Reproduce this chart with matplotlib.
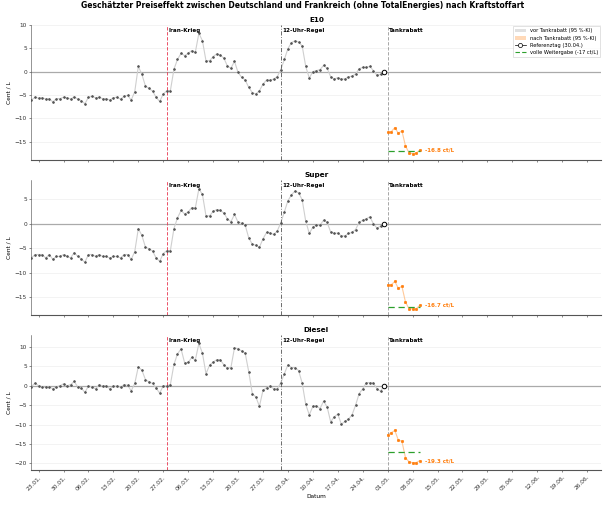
"""Geschätzter Preiseffekt DE vs. FR nach Kraftstoffart – Nachbau als PNG."""
import matplotlib

matplotlib.use("Agg")
import matplotlib.pyplot as plt  # noqa: E402
import matplotlib.dates as mdates  # noqa: E402
from matplotlib.lines import Line2D  # noqa: E402
from matplotlib.patches import Patch  # noqa: E402
import pandas as pd  # noqa: E402

# --------------------------------------------------------------------------
# Daten
# --------------------------------------------------------------------------
PRE_DATES = pd.date_range("2026-01-21", "2026-04-30", freq="D")
POST_DATES = pd.date_range("2026-05-01", "2026-05-10", freq="D")

E10_PRE = [-6.1, -5.5, -5.7, -5.6, -5.9, -5.8, -6.5, -5.8, -5.8, -5.5,
           -5.6, -5.9, -5.4, -5.9, -6.2, -6.9, -5.5, -5.3, -5.6, -5.5,
           -5.8, -5.8, -6.1, -5.6, -5.5, -5.9, -5.3, -5.1, -6.1, -4.3,
           1.1, -0.6, -3.1, -3.6, -4.2, -5.5, -6.4, -4.8,
           -4.1, -4.1, 0.5, 2.6, 3.9, 3.4, 3.9, 4.5, 4.1, 8.2,
           6.6, 2.3, 2.3, 3.2, 3.8, 3.5, 2.9, 1.2, 0.7, 2.2,
           -0.2, -1.2, -1.8, -3.4, -4.5, -4.8, -4.1, -2.7, -1.8, -1.9,
           -1.6, -1.1, 0.4, 2.6, 4.9, 6.2, 6.6, 6.3, 5.5, 1.1,
           -1.4, 0.0, 0.2, 0.4, 1.3, 0.7, -1.1, -1.6, -1.3, -1.6,
           -1.6, -1.1, -1.0, -0.5, 0.6, 0.9, 0.9, 1.1, 0.2, -0.8,
           -0.6, 0.0]
E10_POST = [-13.0, -12.9, -12.0, -13.2, -12.7, -15.9, -17.4, -17.6, -17.5, -16.8]

SUPER_PRE = [-7.0, -6.3, -6.3, -6.3, -7.0, -6.3, -7.3, -6.7, -6.7, -6.3,
             -6.7, -7.0, -5.9, -6.7, -7.2, -7.9, -6.3, -6.3, -6.7, -6.3,
             -6.7, -6.7, -7.0, -6.7, -6.7, -7.0, -6.3, -6.3, -7.3, -5.7,
             -1.0, -2.4, -4.8, -5.1, -5.6, -7.0, -7.7, -6.1,
             -5.5, -5.5, -1.0, 1.2, 2.7, 2.0, 2.4, 3.3, 3.2, 7.1,
             6.0, 1.6, 1.6, 2.5, 2.9, 2.7, 2.2, 1.0, 0.4, 1.9,
             0.3, 0.1, -0.3, -2.9, -4.2, -4.4, -4.8, -3.1, -1.8, -1.9,
             -2.2, -1.5, 0.2, 2.4, 4.7, 5.9, 6.7, 6.3, 4.9, 0.5,
             -2.0, -0.7, -0.3, -0.3, 0.7, 0.3, -1.7, -2.0, -1.9, -2.5,
             -2.5, -2.0, -1.8, -1.2, 0.3, 0.7, 1.0, 1.4, 0.0, -0.9,
             -0.5, 0.0]
SUPER_POST = [-12.5, -12.5, -11.8, -13.2, -12.8, -16.0, -17.4, -17.4, -17.4, -16.7]

DIESEL_PRE = [-0.2, 0.7, 0.0, -0.3, -0.4, -0.2, -0.8, -0.3, 0.0, 0.5,
              0.0, 0.3, 1.1, -0.3, -0.6, -1.7, -0.1, -0.3, -0.8, 0.3,
              -0.1, 0.0, -0.8, -0.1, -0.1, -0.4, 0.3, 0.1, -1.3, 0.6,
              4.9, 4.0, 1.6, 1.0, 0.6, -0.6, -1.9, 0.0,
              0.0, 0.3, 5.5, 8.2, 9.5, 5.9, 6.0, 7.3, 6.6, 10.9,
              8.4, 3.1, 5.3, 6.1, 6.7, 6.7, 5.4, 4.5, 4.7, 9.8,
              9.5, 9.0, 8.4, 3.6, -2.0, -2.9, -5.3, -1.2, -0.5, -0.1,
              -0.8, -0.8, 0.8, 3.1, 5.4, 4.7, 4.7, 3.9, 0.7, -4.8,
              -7.5, -5.3, -5.1, -5.9, -4.0, -5.4, -9.3, -8.0, -7.3, -9.9,
              -9.2, -8.6, -7.5, -5.0, -2.0, -0.8, 0.8, 0.8, 0.7, -0.8,
              -1.4, 0.0]
DIESEL_POST = [-12.6, -12.1, -11.5, -14.0, -14.3, -18.5, -19.6, -19.8, -19.8, -19.3]

FUELS = ["E10", "Super", "Diesel"]
PRE = [E10_PRE, SUPER_PRE, DIESEL_PRE]
POST = [E10_POST, SUPER_POST, DIESEL_POST]
YLIMS = [(-19, 10), (-18.7, 9), (-21.7, 13.2)]
FULL_PASS = -17

EVENTS = [("2026-02-28", "Iran-Krieg", "#e8344e", (0, (4, 2))),
          ("2026-04-01", "12-Uhr-Regel", "#555555", (0, (5, 2, 1, 2))),
          ("2026-05-01", "Tankrabatt", "#999999", (0, (4, 2)))]
REF_DAY = pd.Timestamp("2026-04-30")
XTICKS = pd.date_range("2026-01-23", "2026-06-26", freq="7D")

GRAY_LINE = "#cfcfcf"
GRAY_PT = "#555555"
ORANGE = "#ff7f0e"
ORANGE_LINE = "#ffc999"
GREEN = "#2ca02c"

plt.rcParams["font.family"] = "DejaVu Sans"

fig, axes = plt.subplots(3, 1, figsize=(12.1, 10.14), dpi=50, sharex=True)
fig.subplots_adjust(left=0.052, right=0.994, top=0.951, bottom=0.073, hspace=0.143)
fig.suptitle("Geschätzter Preiseffekt zwischen Deutschland und Frankreich (ohne TotalEnergies) "
             "nach Kraftstoffart", fontsize=11, weight="bold", y=0.998, va="top")

for k, ax in enumerate(axes):
    pre, post = PRE[k], POST[k]
    ax.axhline(0, color="#aaaaaa", linewidth=1.8, zorder=1)
    ax.plot(PRE_DATES, pre, color=GRAY_LINE, linewidth=1.6, zorder=2)
    ax.plot(PRE_DATES, pre, "o", color=GRAY_PT, markersize=2.6, zorder=3)
    ax.plot(POST_DATES, post, color=ORANGE_LINE, linewidth=1.6, zorder=2)
    ax.plot(POST_DATES, post, "o", color=ORANGE, markersize=3.4, zorder=3)
    ax.plot([POST_DATES[0], POST_DATES[-1]], [FULL_PASS, FULL_PASS], color=GREEN,
            linewidth=1.8, linestyle=(0, (5, 3)), zorder=4)
    ax.plot([REF_DAY], [0], "o", markersize=6.5, markerfacecolor="white",
            markeredgecolor="black", markeredgewidth=1.4, zorder=5)
    ax.annotate(f"{post[-1]:.1f} ct/L", (POST_DATES[-1], post[-1]), xytext=(7, 0),
                textcoords="offset points", ha="left", va="center",
                color=ORANGE, fontsize=8, weight="bold")

    for day, label, color, ls in EVENTS:
        d = pd.Timestamp(day)
        ax.axvline(d, color=color, linestyle=ls, linewidth=1.2, zorder=2)
        ax.text(d + pd.Timedelta(hours=10), 0.975, label, transform=ax.get_xaxis_transform(),
                ha="left", va="top", fontsize=8.2, weight="bold")

    ax.set_ylim(*YLIMS[k])
    ax.yaxis.set_major_locator(plt.MultipleLocator(5))
    ax.set_title(FUELS[k], fontsize=10.5, weight="bold", pad=4)
    ax.set_ylabel("Cent / L", fontsize=8.5)
    ax.grid(axis="y", color="#eeeeee", linewidth=1)
    ax.set_axisbelow(True)
    for s in ("top", "right"):
        ax.spines[s].set_visible(False)
    ax.spines["left"].set_color("#444444")
    ax.spines["bottom"].set_color("#555555")
    ax.spines["bottom"].set_linewidth(1.6)
    ax.tick_params(labelsize=8.5, colors="#333333", length=3)

ax = axes[-1]
ax.set_xlim(pd.Timestamp("2026-01-21"), pd.Timestamp("2026-06-30"))
ax.set_xticks(XTICKS)
ax.xaxis.set_major_formatter(mdates.DateFormatter("%d.%m."))
for lbl in ax.get_xticklabels():
    lbl.set_rotation(45)
    lbl.set_horizontalalignment("right")
    lbl.set_rotation_mode("anchor")
ax.set_xlabel("Datum", fontsize=8.5)

handles = [Patch(facecolor="#e0e0e0", edgecolor="none", label="vor Tankrabatt (95 %-KI)"),
           Patch(facecolor="#ffd9b8", edgecolor="none", label="nach Tankrabatt (95 %-KI)"),
           Line2D([], [], color="black", marker="o", markerfacecolor="white", markersize=6,
                  linewidth=1, label="Referenztag (30.04.)"),
           Line2D([], [], color=GREEN, linestyle=(0, (4, 2)), linewidth=1.6,
                  label="volle Weitergabe (-17 ct/L)")]
axes[0].legend(handles=handles, loc="upper right", fontsize=7.3, frameon=True,
               edgecolor="#cccccc", fancybox=False, borderaxespad=0.3, handlelength=2,
               labelspacing=0.45)

fig.savefig("out.png", dpi=50, facecolor="white")
